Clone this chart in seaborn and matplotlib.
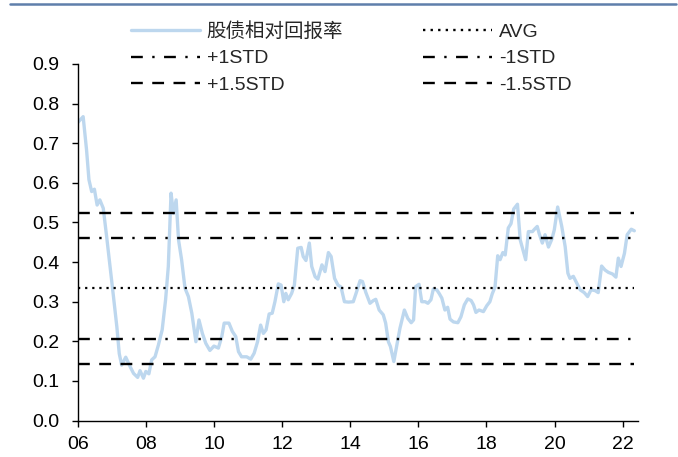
import matplotlib
matplotlib.use("Agg")
import matplotlib.pyplot as plt
from matplotlib.lines import Line2D
import numpy as np
import pandas as pd
import seaborn as sns

# Stock/bond relative return ratio, sampled in decimal years
dates = [
    2006.00, 2006.16, 2006.26, 2006.33, 2006.41, 2006.49, 2006.57, 2006.65, 2006.75, 2006.85,
    2006.95, 2007.05, 2007.15, 2007.22, 2007.29, 2007.41, 2007.54, 2007.64, 2007.76, 2007.83,
    2007.93, 2008.00, 2008.09, 2008.17, 2008.27, 2008.37, 2008.48, 2008.58, 2008.66, 2008.74,
    2008.81, 2008.89, 2008.96, 2009.05, 2009.15, 2009.25, 2009.35, 2009.42, 2009.47, 2009.56,
    2009.66, 2009.76, 2009.88, 2010.00, 2010.13, 2010.23, 2010.30, 2010.44, 2010.54, 2010.64,
    2010.72, 2010.81, 2010.96, 2011.08, 2011.18, 2011.28, 2011.37, 2011.45, 2011.53, 2011.62,
    2011.71, 2011.79, 2011.89, 2011.97, 2012.05, 2012.11, 2012.18, 2012.28, 2012.36, 2012.46,
    2012.56, 2012.62, 2012.70, 2012.80, 2012.87, 2012.97, 2013.05, 2013.17, 2013.26, 2013.36,
    2013.44, 2013.54, 2013.64, 2013.73, 2013.83, 2013.95, 2014.09, 2014.19, 2014.29, 2014.36,
    2014.46, 2014.58, 2014.68, 2014.75, 2014.85, 2014.97, 2015.04, 2015.12, 2015.18, 2015.28,
    2015.37, 2015.46, 2015.59, 2015.69, 2015.79, 2015.86, 2015.92, 2016.02, 2016.10, 2016.20,
    2016.28, 2016.37, 2016.44, 2016.54, 2016.61, 2016.69, 2016.78, 2016.86, 2016.93, 2017.03,
    2017.16, 2017.25, 2017.35, 2017.45, 2017.55, 2017.62, 2017.69, 2017.78, 2017.91, 2018.01,
    2018.10, 2018.17, 2018.25, 2018.33, 2018.40, 2018.48, 2018.55, 2018.64, 2018.72, 2018.80,
    2018.91, 2018.99, 2019.07, 2019.15, 2019.23, 2019.35, 2019.41, 2019.49, 2019.55, 2019.64,
    2019.72, 2019.82, 2019.92, 2019.99, 2020.09, 2020.21, 2020.31, 2020.39, 2020.45, 2020.55,
    2020.65, 2020.75, 2020.87, 2020.97, 2021.07, 2021.19, 2021.28, 2021.38, 2021.48, 2021.58,
    2021.70, 2021.80, 2021.87, 2021.95, 2022.05, 2022.13, 2022.25, 2022.34,
]
ratio = [
    0.752, 0.767, 0.683, 0.608, 0.578, 0.584, 0.544, 0.557, 0.536, 0.464,
    0.389, 0.313, 0.236, 0.169, 0.140, 0.160, 0.136, 0.119, 0.109, 0.126,
    0.107, 0.124, 0.118, 0.153, 0.161, 0.191, 0.229, 0.305, 0.389, 0.574,
    0.523, 0.557, 0.456, 0.406, 0.334, 0.313, 0.271, 0.229, 0.199, 0.254,
    0.220, 0.195, 0.177, 0.188, 0.183, 0.212, 0.246, 0.246, 0.225, 0.212,
    0.174, 0.161, 0.161, 0.155, 0.170, 0.199, 0.241, 0.220, 0.229, 0.269,
    0.271, 0.300, 0.345, 0.342, 0.300, 0.321, 0.305, 0.321, 0.342, 0.435,
    0.437, 0.414, 0.404, 0.448, 0.389, 0.363, 0.357, 0.393, 0.376, 0.424,
    0.414, 0.359, 0.342, 0.337, 0.300, 0.299, 0.300, 0.326, 0.353, 0.351,
    0.323, 0.296, 0.303, 0.306, 0.279, 0.267, 0.246, 0.199, 0.187, 0.149,
    0.191, 0.233, 0.279, 0.258, 0.247, 0.254, 0.338, 0.344, 0.300, 0.300,
    0.296, 0.305, 0.332, 0.330, 0.321, 0.309, 0.279, 0.286, 0.256, 0.249,
    0.247, 0.262, 0.292, 0.307, 0.303, 0.292, 0.273, 0.279, 0.275, 0.290,
    0.300, 0.320, 0.337, 0.416, 0.406, 0.424, 0.418, 0.486, 0.497, 0.534,
    0.546, 0.456, 0.431, 0.406, 0.477, 0.477, 0.483, 0.490, 0.471, 0.448,
    0.469, 0.438, 0.458, 0.481, 0.539, 0.490, 0.439, 0.372, 0.359, 0.364,
    0.347, 0.330, 0.323, 0.313, 0.330, 0.328, 0.323, 0.390, 0.380, 0.374,
    0.370, 0.362, 0.410, 0.389, 0.422, 0.469, 0.483, 0.479,
]

AVG = 0.334
STD = 0.127

series_label = "股债相对回报率"
x_ticks = [2006, 2008, 2010, 2012, 2014, 2016, 2018, 2020, 2022]
x_tick_labels = ["06", "08", "10", "12", "14", "16", "18", "20", "22"]
y_ticks = [0.0, 0.1, 0.2, 0.3, 0.4, 0.5, 0.6, 0.7, 0.8, 0.9]

sns.set_style("ticks")
plt.rcParams["font.family"] = ["Liberation Sans", "Noto Sans CJK SC"]
plt.rcParams["axes.unicode_minus"] = False

df = pd.DataFrame({"date": dates, "ratio": ratio})

fig = plt.figure(figsize=(6.78, 4.57), dpi=100)
ax = fig.add_axes([0.1146, 0.0797, 0.826, 0.7803])

sns.lineplot(data=df, x="date", y="ratio", ax=ax, color="#bdd7ee",
             linewidth=2.4, label=series_label, zorder=2)

x0, x1 = dates[0], dates[-1]
dotted = (0, (1, 2.2))
dashdot = (0, (5, 4, 1, 4))
dashed = (0, (5, 4))
ax.hlines(AVG, x0, x1, colors="black", linestyles=dotted, linewidth=1.6, zorder=3)
ax.hlines(AVG + STD, x0, x1, colors="black", linestyles=dashdot, linewidth=1.7, zorder=3)
ax.hlines(AVG - STD, x0, x1, colors="black", linestyles=dashdot, linewidth=1.7, zorder=3)
ax.hlines(AVG + 1.5 * STD, x0, x1, colors="black", linestyles=dashed, linewidth=1.7, zorder=3)
ax.hlines(AVG - 1.5 * STD, x0, x1, colors="black", linestyles=dashed, linewidth=1.7, zorder=3)

ax.set_xlim(2006, 2022.44)
ax.set_ylim(0.0, 0.9)
ax.set_xticks(x_ticks)
ax.set_xticklabels(x_tick_labels)
ax.set_yticks(y_ticks)
ax.set_yticklabels([f"{v:.1f}" for v in y_ticks])
ax.set_xlabel("")
ax.set_ylabel("")
for side in ("top", "right"):
    ax.spines[side].set_visible(False)
for side in ("left", "bottom"):
    ax.spines[side].set_color("black")
    ax.spines[side].set_linewidth(1.0)
ax.tick_params(axis="both", direction="out", length=4, width=1.0,
               color="black", labelsize=14, labelcolor="black")
ax.tick_params(axis="y", pad=9)
ax.tick_params(axis="x", pad=7)

# legend handles, filled column by column
h_line = Line2D([], [], color="#bdd7ee", linewidth=2.4)
mk = lambda ls: Line2D([], [], color="black", linestyle=ls, linewidth=1.7)
handles = [h_line, mk(dashdot), mk(dashed), mk(dotted), mk(dashdot), mk(dashed)]
labels = [series_label, "+1STD", "+1.5STD", "AVG", "-1STD", "-1.5STD"]
ax.legend(handles, labels, ncol=2, frameon=False, fontsize=14,
          loc="upper left", bbox_to_anchor=(131 / 678, 1 - 22 / 457),
          bbox_transform=fig.transFigure, borderpad=0, borderaxespad=0,
          handlelength=3.55, handletextpad=0.35, columnspacing=4.1,
          labelspacing=0.46)

# header rule
fig.add_artist(Line2D([9.6 / 678, 676 / 678], [1 - 3.8 / 457, 1 - 3.8 / 457],
                      transform=fig.transFigure, color="#5f7fab", linewidth=1.8))

fig.savefig("out.png", dpi=100)
